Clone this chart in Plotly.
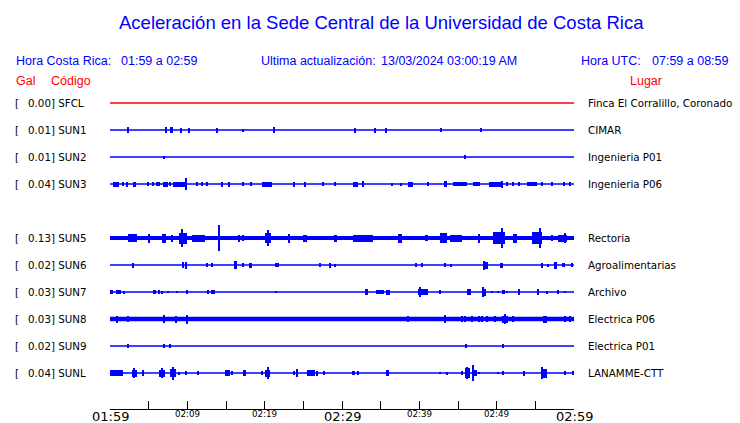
import plotly.graph_objects as go

# ---------------- data ----------------
codes = ["SFCL", "SUN1", "SUN2", "SUN3", "SUN5", "SUN6", "SUN7", "SUN8", "SUN9", "SUNL"]
gal = [0.00, 0.01, 0.01, 0.04, 0.13, 0.02, 0.03, 0.03, 0.02, 0.04]
places = ["Finca El Corralillo, Coronado", "CIMAR", "Ingenieria P01", "Ingenieria P06",
          "Rectoria", "Agroalimentarias", "Archivo", "Electrica P06", "Electrica P01", "LANAMME-CTT"]
slots = [0, 1, 2, 3, 5, 6, 7, 8, 9, 10]   # SUN4 slot empty

# bursts per station: (start minute, end minute, half amplitude)
bursts_SFCL = []
bursts_SUN1 = [(2.37, 2.37, 3), (7.20, 7.20, 3), (7.76, 8.11, 3), (9.18, 9.18, 2.5), (10.25, 10.25, 2.5),
               (13.80, 13.80, 2.5), (17.24, 17.24, 1.5), (21.21, 21.21, 3), (31.72, 31.72, 2.5),
               (34.27, 34.27, 2.5), (35.65, 35.65, 2.5), (42.67, 42.93, 2), (47.98, 47.98, 2)]
bursts_SUN2 = [(7.02, 7.02, 1.5), (45.78, 46.04, 2)]
bursts_SUN3 = [(0.43, 1.20, 2.5), (1.72, 1.72, 2), (2.07, 2.37, 2.5), (3.01, 3.32, 2.5), (4.88, 4.88, 2),
               (5.60, 5.60, 2), (6.12, 6.12, 2), (6.34, 6.34, 2), (6.89, 7.54, 2.5), (7.76, 7.76, 2),
               (8.19, 9.92, 2.5), (9.83, 9.83, 6), (11.29, 11.29, 2), (11.90, 11.90, 2), (12.58, 12.58, 2),
               (14.44, 14.44, 2.5), (15.43, 15.43, 2.5), (17.24, 17.24, 2), (18.19, 18.19, 2),
               (19.62, 20.91, 2.5), (23.79, 23.79, 2.5), (25.09, 25.35, 2.5), (27.58, 27.58, 2),
               (29.10, 29.10, 2), (31.46, 32.11, 2.5), (32.76, 32.76, 3), (36.43, 36.43, 1.5),
               (37.59, 37.59, 1.5), (38.58, 39.14, 2.5), (41.16, 41.16, 2), (43.19, 43.62, 3),
               (44.32, 46.13, 2), (46.98, 47.85, 2), (49.05, 50.86, 2.5), (50.69, 50.69, 3.5),
               (51.30, 51.30, 2), (52.15, 52.15, 2), (52.93, 52.93, 2), (53.89, 55.18, 2),
               (55.83, 55.83, 2), (57.20, 57.20, 2), (58.75, 58.75, 2), (59.49, 59.49, 2)]
bursts_SUN5 = [(2.29, 3.45, 4), (4.88, 5.17, 4.5), (6.76, 7.20, 4.5), (7.85, 8.19, 3.5), (8.96, 9.92, 5.5),
               (9.31, 9.31, 9), (10.57, 12.28, 3.5), (14.00, 14.22, 4), (14.10, 14.10, 13),
               (16.59, 16.81, 3.5), (17.03, 17.33, 3), (20.04, 20.78, 5), (20.45, 20.45, 8),
               (23.06, 23.28, 4.5), (25.00, 25.44, 3.5), (29.01, 29.39, 3.5), (31.46, 34.01, 3.5),
               (37.28, 37.71, 4.5), (40.73, 41.16, 3), (42.67, 43.54, 5), (43.97, 45.48, 3.5),
               (47.63, 47.85, 4.5), (49.57, 51.08, 6), (50.69, 50.69, 10), (52.15, 52.67, 4.5),
               (54.53, 55.83, 6), (55.61, 55.61, 10), (57.12, 57.33, 3), (57.97, 59.06, 3.5),
               (58.84, 58.84, 5)]
bursts_SUN6 = [(2.88, 3.01, 2.5), (9.40, 9.57, 3), (9.70, 10.00, 3.5), (12.58, 12.58, 2), (13.06, 13.36, 2),
               (16.04, 16.38, 4), (17.24, 17.24, 2), (17.97, 18.32, 2.5), (21.34, 21.89, 2),
               (27.16, 27.16, 2), (28.28, 28.54, 2.5), (29.10, 29.10, 1.5), (39.57, 39.57, 2),
               (40.39, 40.39, 2), (43.32, 43.32, 2), (44.10, 44.10, 1.5), (48.36, 48.92, 3.5),
               (48.40, 48.40, 4.5), (50.43, 50.86, 2.5), (55.86, 56.04, 2.5), (56.68, 56.68, 1.5),
               (57.42, 57.76, 3.5), (58.49, 58.84, 2), (59.70, 59.70, 2)]
bursts_SUN7 = [(0.00, 0.43, 2), (0.78, 1.38, 2), (1.81, 1.81, 1.5), (5.60, 5.95, 2), (6.25, 6.47, 2),
               (6.69, 6.69, 1.5), (7.54, 7.54, 1), (8.70, 8.70, 1), (9.83, 10.05, 2), (12.63, 12.63, 2),
               (13.06, 13.58, 2), (21.47, 21.47, 1), (32.98, 33.40, 3), (34.40, 35.43, 2),
               (35.69, 36.21, 2.5), (39.87, 41.16, 3), (40.09, 40.09, 5), (42.54, 42.80, 2),
               (46.13, 46.64, 3), (48.07, 48.62, 3.5), (48.24, 48.24, 5), (49.43, 49.43, 1),
               (50.21, 50.21, 1), (50.65, 51.08, 2), (51.38, 51.38, 1), (52.80, 53.02, 3),
               (55.26, 55.52, 3), (56.55, 56.55, 1.5), (57.76, 58.10, 2), (58.84, 58.84, 1)]
bursts_SUN8 = [(0.87, 0.87, 3.5), (2.37, 2.37, 3), (7.02, 7.02, 4), (8.50, 8.50, 3.5), (9.92, 9.92, 4.5),
               (38.50, 38.50, 3), (43.32, 43.32, 4), (45.48, 45.48, 3), (45.91, 45.91, 3),
               (46.77, 46.77, 3), (47.76, 47.76, 3), (48.07, 48.07, 3), (48.71, 48.71, 3),
               (49.79, 49.79, 3), (50.65, 51.51, 3.5), (51.08, 51.08, 5), (52.07, 52.07, 3),
               (56.03, 56.47, 3.5), (58.84, 58.84, 3), (59.49, 59.49, 3)]
bursts_SUN9 = [(2.37, 2.37, 2), (7.02, 7.02, 2), (7.80, 7.80, 2), (45.91, 46.13, 2), (50.86, 50.86, 2)]
bursts_SUNL = [(0.00, 1.72, 3), (2.81, 3.45, 3.5), (3.14, 3.14, 5), (4.10, 4.40, 3), (6.38, 7.11, 3.5),
               (6.69, 6.69, 5), (7.76, 8.53, 4), (8.11, 8.11, 6.5), (8.96, 8.96, 1.5), (9.83, 9.83, 2),
               (11.42, 11.42, 2), (14.87, 15.52, 3), (15.74, 15.74, 2), (17.24, 17.59, 3),
               (19.69, 19.69, 2), (20.04, 20.69, 3.5), (20.47, 20.47, 6), (23.70, 23.92, 2),
               (24.22, 24.22, 4), (25.51, 26.51, 3), (26.73, 26.94, 2.5), (27.67, 27.67, 2),
               (31.26, 31.68, 2), (32.11, 32.11, 2), (35.69, 36.04, 3), (42.67, 42.67, 1),
               (43.54, 43.54, 1.5), (45.48, 45.48, 2), (45.91, 46.55, 5), (46.13, 46.13, 6),
               (46.98, 46.98, 8), (47.07, 47.42, 3), (47.76, 47.76, 1), (50.21, 50.21, 1),
               (50.86, 50.86, 2), (53.37, 53.67, 2.5), (55.70, 56.47, 4.5), (55.86, 55.86, 6),
               (58.84, 58.84, 2), (59.90, 59.90, 2)]
bursts = [bursts_SFCL, bursts_SUN1, bursts_SUN2, bursts_SUN3, bursts_SUN5,
          bursts_SUN6, bursts_SUN7, bursts_SUN8, bursts_SUN9, bursts_SUNL]

tick_minutes = list(range(0, 61, 5))
label_minutes = [0, 10, 20, 30, 40, 50, 60]
label_text = ["01:59", "02:09", "02:19", "02:29", "02:39", "02:49", "02:59"]
label_major = [True, False, False, True, False, False, True]

# ---------------- styles / geometry ----------------
BLUE = "#0000FF"
RED = "#FF0000"
trace_colors = [RED] + [BLUE] * 9
base_width = [1.4, 1.4, 1.4, 1.4, 4, 1.4, 1.4, 4.5, 1.4, 1.4]
W, H = 740, 423
L, R, T, B = 110, 574, 90, 409   # plot area in pixels
ROW0, ROWGAP = 13, 27
SPIKE_W = 0.14

def px(xp):
    return (xp - L) / (R - L)

def py(yp):
    return (B - yp) / (B - T)

fig = go.Figure()
for i, code in enumerate(codes):
    yrow = ROW0 + ROWGAP * slots[i]
    fig.add_trace(go.Scatter(x=[0, 60], y=[yrow, yrow], mode="lines",
                             line=dict(color=trace_colors[i], width=base_width[i]),
                             hoverinfo="skip", showlegend=False))
    if bursts[i]:
        xs = [(a + b) / 2 for a, b, _ in bursts[i]]
        ws = [max(b - a, SPIKE_W) for a, b, _ in bursts[i]]
        bs = [yrow - amp for _, _, amp in bursts[i]]
        hs = [2 * amp for _, _, amp in bursts[i]]
        fig.add_trace(go.Bar(x=xs, y=hs, base=bs, width=ws,
                             marker=dict(color=trace_colors[i], line=dict(width=0)),
                             hoverinfo="skip", showlegend=False))

ann = []
def text(x, y, s, size, color, family, xanchor="left"):
    ann.append(dict(x=px(x), y=py(y), xref="paper", yref="paper", text=s, showarrow=False,
                    xanchor=xanchor, yanchor="middle", borderpad=0,
                    font=dict(size=size, color=color, family=family)))

SANS = "Liberation Sans, Arial, sans-serif"
DJV = "DejaVu Sans, sans-serif"
text(381, 22, "Aceleración en la Sede Central de la Universidad de Costa Rica", 18.5, BLUE, SANS, "center")
text(15, 61, "Hora Costa Rica:", 12.5, BLUE, SANS)
text(120, 61, "01:59 a 02:59", 12.5, BLUE, SANS)
text(260, 61, "Ultima actualización:", 12.5, BLUE, SANS)
text(380, 61, "13/03/2024 03:00:19 AM", 12.5, BLUE, SANS)
text(580, 61, "Hora UTC:", 12.5, BLUE, SANS)
text(651, 61, "07:59 a 08:59", 12.5, BLUE, SANS)
text(15, 81, "Gal", 12.5, RED, SANS)
text(50, 81, "Código", 12.5, RED, SANS)
text(646, 81, "Lugar", 12.5, RED, SANS, "center")

for i, code in enumerate(codes):
    yrow = T + ROW0 + ROWGAP * slots[i]
    text(14, yrow, "[", 10.3, "black", DJV)
    text(27, yrow, f"{gal[i]:.2f}] {code}", 10.3, "black", DJV)
    text(587, yrow, places[i], 10.3, "black", DJV)

for m, s, big in zip(label_minutes, label_text, label_major):
    xp = L + (R - L) * m / 60
    if big:
        text(xp, 416, s, 13, "black", DJV, "center")
    else:
        text(xp, 414, s, 8.7, "black", DJV, "center")

fig.update_layout(
    width=W, height=H,
    margin=dict(l=L, r=W - R, t=T, b=H - B, pad=0),
    paper_bgcolor="white", plot_bgcolor="white",
    barmode="overlay", bargap=0,
    showlegend=False,
    annotations=ann,
    xaxis=dict(range=[0, 60], tickvals=tick_minutes, showticklabels=False,
               ticks="inside", ticklen=8, tickwidth=1, tickcolor="black",
               showline=True, linecolor="black", linewidth=1, showgrid=False,
               zeroline=False, fixedrange=True),
    yaxis=dict(range=[B - T, 0], visible=False, showgrid=False, zeroline=False, fixedrange=True),
)

fig.write_html("out.html", config={"displayModeBar": False},
               post_script="document.body.style.margin='0';document.body.style.padding='0';")
